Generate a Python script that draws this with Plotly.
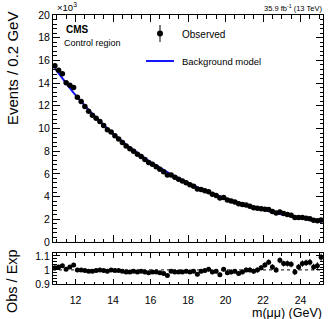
import numpy as np
import plotly.graph_objects as go

# ---------------- data (events in units of 10^3 per 0.2 GeV bin) ----------------
mass_lo, mass_hi, bin_w = 10.8, 25.2, 0.2
mass = np.round(np.arange(mass_lo + bin_w / 2, mass_hi, bin_w), 2)  # bin centres

background = [
    15.300, 14.842, 14.398, 13.967, 13.549, 13.143, 12.750, 12.368, 11.998, 11.639,
    11.291, 10.953, 10.625, 10.307, 9.999, 9.700, 9.409, 9.128, 8.855, 8.590,
    8.333, 8.083, 7.841, 7.607, 7.379, 7.158, 6.944, 6.736, 6.535, 6.339,
    6.149, 5.965, 5.787, 5.614, 5.446, 5.283, 5.125, 4.971, 4.823, 4.678,
    4.538, 4.402, 4.271, 4.143, 4.019, 3.899, 3.782, 3.669, 3.559, 3.452,
    3.349, 3.249, 3.152, 3.057, 2.966, 2.877, 2.791, 2.707, 2.626, 2.548,
    2.471, 2.397, 2.326, 2.256, 2.188, 2.123, 2.059, 1.998, 1.938, 1.880,
    1.824, 1.769,
]
observed = [
    15.530, 15.139, 14.830, 14.037, 13.820, 13.603, 12.750, 12.368, 11.938, 11.523,
    11.178, 10.898, 10.625, 10.255, 9.899, 9.700, 9.362, 9.082, 8.766, 8.461,
    8.208, 8.002, 7.723, 7.531, 7.268, 7.015, 6.840, 6.635, 6.404, 6.181,
    5.903, 5.905, 5.700, 5.530, 5.364, 5.230, 5.048, 4.921, 4.678, 4.631,
    4.515, 4.424, 4.207, 4.102, 3.878, 3.918, 3.706, 3.614, 3.523, 3.366,
    3.299, 3.249, 3.152, 3.026, 2.966, 2.920, 2.889, 2.856, 2.679, 2.548,
    2.639, 2.505, 2.431, 2.346, 2.155, 2.165, 2.152, 2.098, 2.045, 1.918,
    1.879, 1.928,
]
main_yticks = [0, 2, 4, 6, 8, 10, 12, 14, 16, 18, 20]
ratio_yticks = [0.9, 1.0, 1.1]
ratio_yticklabels = ["0.9", "1", "1.1"]
xticks = [12, 14, 16, 18, 20, 22, 24]

obs = np.array(observed)
bkg = np.array(background)
obs_err = np.sqrt(obs * 1000.0) / 1000.0
ratio = obs / bkg
ratio_err = obs_err / bkg

# ---------------- layout helpers ----------------
W, H = 332, 319
L, R, T, B = 53, 9, 15, 35
PW, PH = W - L - R, H - T - B


def px(x):
    return (x - L) / PW


def py(y):
    return (H - B - y) / PH


FONT = "Liberation Sans, Arial, Helvetica, sans-serif"

fig = go.Figure()

fig.add_trace(go.Scatter(
    x=mass, y=bkg, mode="lines", line=dict(color="#1414ff", width=2),
    xaxis="x", yaxis="y", showlegend=False, hoverinfo="skip"))
fig.add_trace(go.Scatter(
    x=mass, y=obs, mode="markers",
    marker=dict(color="black", size=5.5),
    error_y=dict(type="data", array=obs_err, color="black", thickness=1, width=0),
    xaxis="x", yaxis="y", showlegend=False))
fig.add_trace(go.Scatter(
    x=mass, y=ratio, mode="markers",
    marker=dict(color="black", size=5),
    error_y=dict(type="data", array=ratio_err, color="black", thickness=1, width=0),
    xaxis="x2", yaxis="y2", showlegend=False))

axis_common = dict(
    showline=True, linecolor="black", linewidth=1, mirror="allticks",
    ticks="inside", tickcolor="black", tickwidth=1, showgrid=False, zeroline=False,
    tickfont=dict(family=FONT, size=10.5, color="black"),
)

fig.update_layout(
    width=W, height=H,
    margin=dict(l=L, r=R, t=T, b=B),
    paper_bgcolor="white", plot_bgcolor="white",
    xaxis=dict(**axis_common, domain=[0, 1], anchor="y", range=[mass_lo, mass_hi],
               tickvals=xticks, showticklabels=False, ticklen=7, matches="x2",
               minor=dict(ticks="inside", dtick=0.5, tick0=0, ticklen=3.5,
                          tickcolor="black", showgrid=False)),
    yaxis=dict(**axis_common, domain=[py(242), 1], anchor="x", range=[0, 20],
               tickvals=main_yticks, ticklen=7,
               minor=dict(ticks="inside", dtick=0.4, tick0=0, ticklen=3.5,
                          tickcolor="black", showgrid=False)),
    xaxis2=dict(**axis_common, domain=[0, 1], anchor="y2", range=[mass_lo, mass_hi],
                tickvals=xticks, ticklen=5, ticklabelstandoff=6,
                minor=dict(ticks="inside", dtick=0.5, tick0=0, ticklen=2.5,
                           tickcolor="black", showgrid=False)),
    yaxis2=dict(**axis_common, domain=[0, py(253)], anchor="x2", range=[0.9, 1.12],
                tickvals=ratio_yticks, ticktext=ratio_yticklabels, ticklen=7,
                minor=dict(ticks="inside", dtick=0.02, tick0=0.9, ticklen=3.5,
                           tickcolor="black", showgrid=False)),
    showlegend=False,
)

# dashed unity line in ratio panel
fig.add_shape(type="line", xref="x2 domain", yref="y2", x0=0, x1=1, y0=1, y1=1,
              line=dict(color="black", width=1, dash="dot"))

# legend symbols (drawn manually in ROOT style)
fig.add_shape(type="line", xref="paper", yref="paper", x0=px(160), x1=px(160),
              y0=py(25), y1=py(42), line=dict(color="black", width=1))
fig.add_shape(type="circle", xref="paper", yref="paper", x0=px(157), x1=px(163),
              y0=py(30.5), y1=py(36.5), fillcolor="black", line=dict(color="black", width=0))
fig.add_shape(type="line", xref="paper", yref="paper", x0=px(146), x1=px(174),
              y0=py(61), y1=py(61), line=dict(color="#1414ff", width=2))


def note(text, x, y, size, xanchor="left", angle=0):
    fig.add_annotation(text=text, xref="paper", yref="paper", x=px(x), y=py(y),
                       xanchor=xanchor, yanchor="middle", showarrow=False,
                       textangle=angle,
                       font=dict(family=FONT, size=size, color="black"))


note("×10<sup>3</sup>", 55, 7, 9.5)
note("<b>CMS</b>", 64, 30, 10)
note("Control region", 62, 43.5, 9)
note("35.9 fb<sup>-1</sup> (13 TeV)", 324, 8.5, 7.5, xanchor="right")
note("Observed", 180, 34, 10)
note("Background model", 180, 61.5, 9.5)
note("Events / 0.2 GeV", 12, 69, 15, xanchor="center", angle=-90)
note("Obs / Exp", 12, 281, 14.5, xanchor="center", angle=-90)
note("m(μμ) (GeV)", 324, 312.5, 12.5, xanchor="right")

fig.write_html(
    "out.html",
    config={"displayModeBar": False},
    post_script="document.body.style.margin='0';document.body.style.overflow='hidden';",
)
